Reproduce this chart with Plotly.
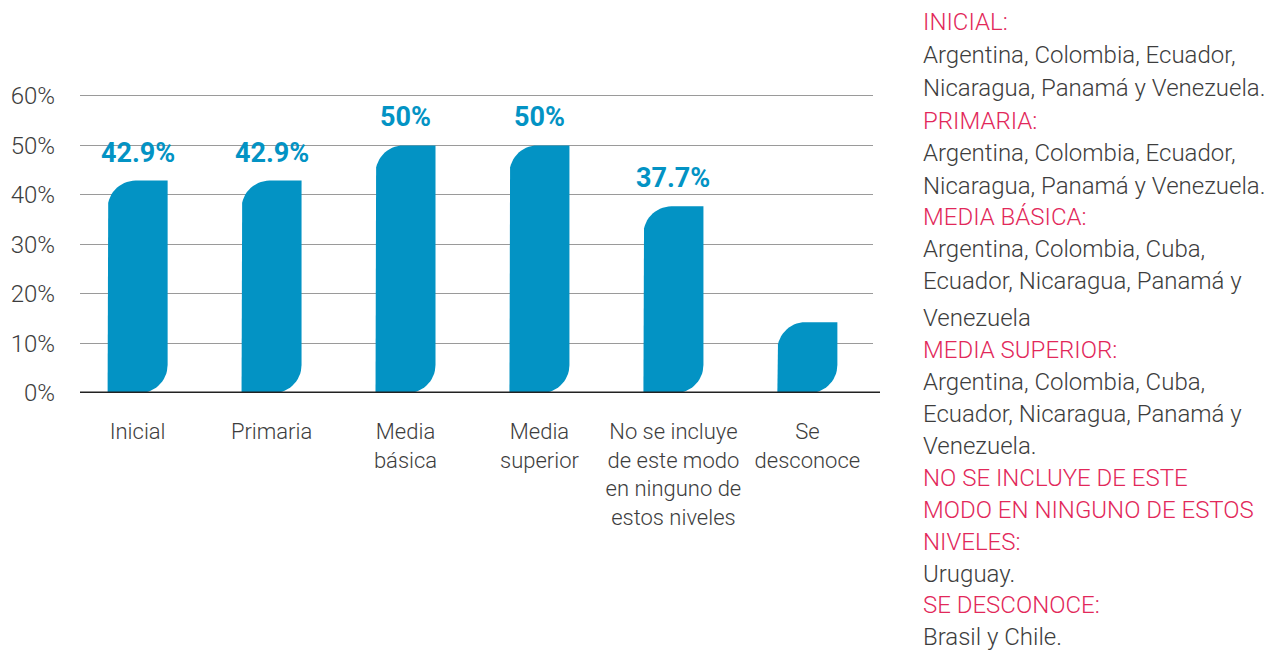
import numpy as np
import plotly.graph_objects as go

# ---------------- data ----------------
categories = ["Inicial", "Primaria", "Media<br>básica", "Media<br>superior",
              "No se incluye<br>de este modo<br>en ninguno de<br>estos niveles", "Se<br>desconoce"]
values = [42.9, 42.9, 50.0, 50.0, 37.7, 14.3]
value_labels = ["42.9%", "42.9%", "50%", "50%", "37.7%", ""]
y_ticks = [0, 10, 20, 30, 40, 50, 60]
y_tick_labels = ["0%", "10%", "20%", "30%", "40%", "50%", "60%"]

note_lines = [
    ("INICIAL:", True),
    ("Argentina, Colombia, Ecuador,", False),
    ("Nicaragua, Panamá y Venezuela.", False),
    ("PRIMARIA:", True),
    ("Argentina, Colombia, Ecuador,", False),
    ("Nicaragua, Panamá y Venezuela.", False),
    ("MEDIA BÁSICA:", True),
    ("Argentina, Colombia, Cuba,", False),
    ("Ecuador, Nicaragua, Panamá y", False),
    ("Venezuela", False),
    ("MEDIA SUPERIOR:", True),
    ("Argentina, Colombia, Cuba,", False),
    ("Ecuador, Nicaragua, Panamá y", False),
    ("Venezuela.", False),
    ("NO SE INCLUYE DE ESTE", True),
    ("MODO EN NINGUNO DE ESTOS", True),
    ("NIVELES:", True),
    ("Uruguay.", False),
    ("SE DESCONOCE:", True),
    ("Brasil y Chile.", False),
]
note_y_px = [22, 55, 88, 121, 153, 186, 217, 249, 281, 318, 350, 382, 414, 446,
             478, 510, 542, 574, 606, 638]

# ---------------- style ----------------
BLUE = "#0393C4"
PINK = "#E2285A"
TEXT = "#3d3d3d"
FONT = "Roboto"

OFF = 8  # page body margin
W, H = 1286 - OFF, 651 - OFF
PLOT_L, PLOT_R, PLOT_T, PLOT_B = 80, 873, 86, 393.3   # page pixels
M_L = PLOT_L - OFF
M_T = PLOT_T - OFF
M_R = W - (PLOT_R - OFF)
M_B = H - (PLOT_B - OFF)
Y_MAX = 62
X_RANGE = [-0.43, 5.49]
plot_w = W - M_L - M_R
plot_h = H - M_T - M_B
px_per_x = plot_w / (X_RANGE[1] - X_RANGE[0])
px_per_y = plot_h / Y_MAX

half_w = 30 / px_per_x
rx = 28 / px_per_x
ry = 28 / px_per_y

fig = go.Figure()

t = np.linspace(0, np.pi / 2, 16)
for i, v in enumerate(values):
    x0, x1 = i - half_w, i + half_w
    tl_x = x0 + rx - rx * np.cos(t)
    tl_y = v - ry + ry * np.sin(t)
    br_x = x1 - rx + rx * np.cos(t)
    br_y = ry - ry * np.sin(t)
    xs = [x0] + list(tl_x) + [x1] + list(br_x) + [x0]
    ys = [0] + list(tl_y) + [v] + list(br_y) + [0]
    fig.add_trace(go.Scatter(
        x=xs, y=ys, mode="lines", fill="toself", fillcolor=BLUE,
        line=dict(width=0, color=BLUE), hoverinfo="skip", showlegend=False))

for i, (v, lab) in enumerate(zip(values, value_labels)):
    if lab:
        fig.add_annotation(x=i, y=v, text=lab, showarrow=False, yanchor="bottom",
                           yshift=10, font=dict(family=FONT, size=27, color=BLUE, weight="bold"))

for (label, is_head), y in zip(note_lines, note_y_px):
    fig.add_annotation(
        xref="paper", yref="paper",
        x=(921 - PLOT_L) / plot_w, y=(PLOT_B - y) / plot_h,
        xanchor="left", yanchor="middle", showarrow=False, text=label,
        font=dict(family=FONT, size=24, color=PINK if is_head else TEXT, weight=300))

# baseline extends slightly past the plot area, as in the original
fig.add_shape(type="line", xref="paper", yref="y", x0=0, x1=(880 - PLOT_L) / plot_w,
              y0=0, y1=0, line=dict(color="#222222", width=3), layer="above")

fig.update_layout(
    width=W, height=H,
    margin=dict(l=M_L, r=M_R, t=M_T, b=M_B, autoexpand=False),
    paper_bgcolor="white", plot_bgcolor="white",
    showlegend=False,
    xaxis=dict(range=X_RANGE, tickmode="array", tickvals=list(range(len(categories))),
               ticktext=categories, showgrid=False, zeroline=False, automargin=False,
               showline=False, ticks="", ticklabelstandoff=23,
               tickfont=dict(family=FONT, size=22, color=TEXT, weight=300)),
    yaxis=dict(range=[0, Y_MAX], tickmode="array", tickvals=y_ticks, ticktext=y_tick_labels,
               showgrid=True, gridcolor="#9a9a9a", gridwidth=1.3, zeroline=False,
               automargin=False, showline=False, ticks="", ticklabelstandoff=24,
               tickfont=dict(family=FONT, size=24, color=TEXT, weight=300)),
)

fig.write_html("out.html")
